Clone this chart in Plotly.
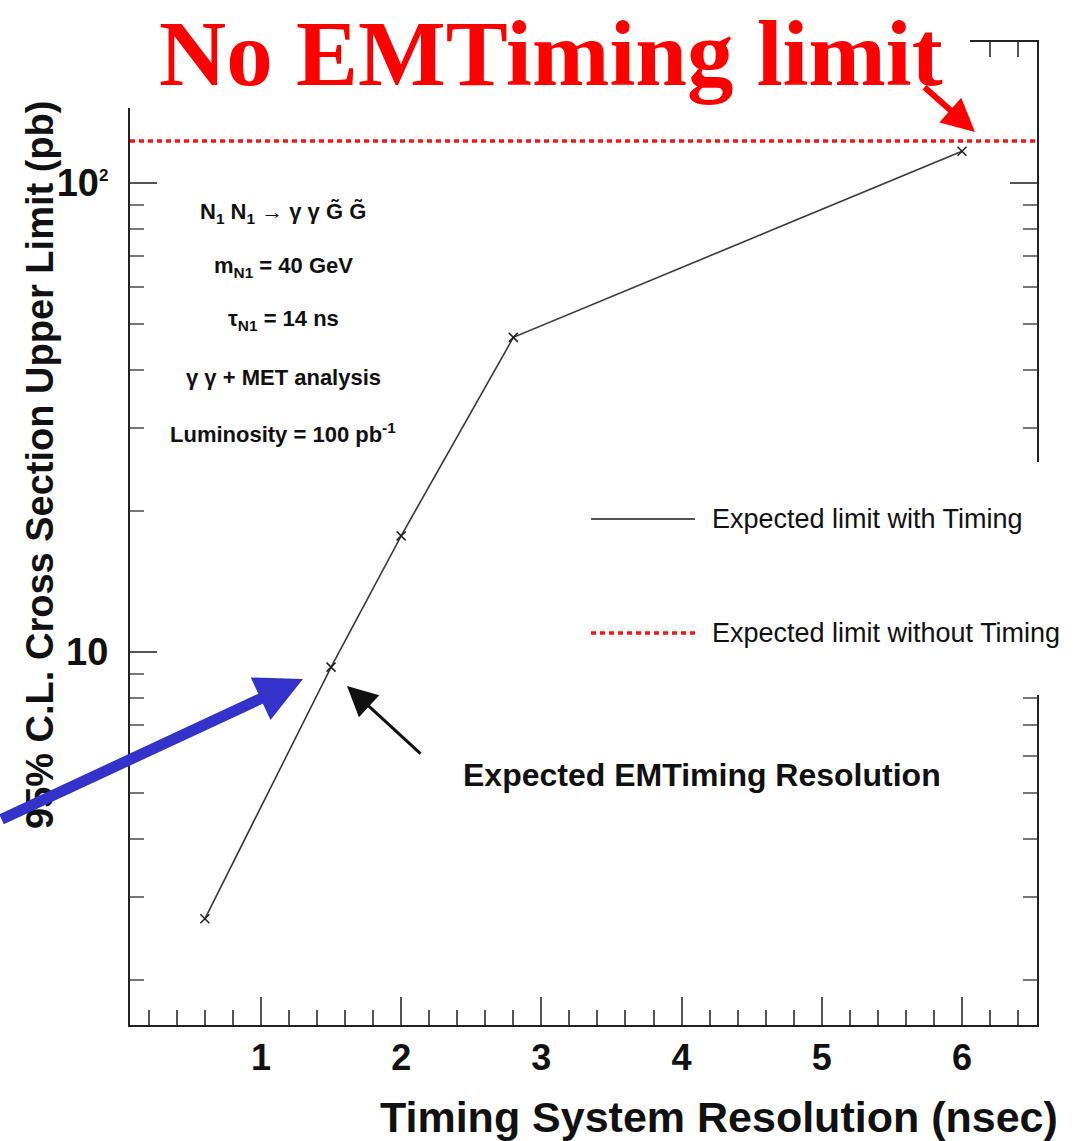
import plotly.graph_objects as go

# ---------------- data ----------------
resolution_ns = [0.6, 1.5, 2.0, 2.8, 6.0]
limit_with_timing_pb = [2.70, 9.29, 17.7, 46.9, 117.0]
limit_without_timing_pb = 123.0

x_range = [0.066, 6.535]
y_range_log = [0.205, 2.301]

x_tick_vals = [1, 2, 3, 4, 5, 6]
x_tick_text = ["1", "2", "3", "4", "5", "6"]
y_tick_vals = [10, 100]
y_tick_text = ["10", "10<sup><span style='font-size:17px'>2</span></sup>"]
y_minor_vals = [2, 3, 4, 5, 6, 7, 8, 9, 20, 30, 40, 50, 60, 70, 80, 90, 200]

legend_labels = ["Expected limit with Timing", "Expected limit without Timing"]
info_lines = [
    "N<sub>1</sub> N<sub>1</sub> → γ γ G̃ G̃",
    "m<sub>N1</sub> = 40 GeV",
    "τ<sub>N1</sub> = 14 ns",
    "γ γ + MET analysis",
    "Luminosity = 100 pb<sup>-1</sup>",
]

W, H = 1088, 1141
L, R, T, B = 130, 51, 42, 116
PW, PH = W - L - R, H - T - B


def px(xp):
    return (xp - L) / PW


def py(yp):
    return (H - B - yp) / PH


SANS = "Liberation Sans, Arial, Helvetica, sans-serif"

fig = go.Figure()

fig.add_trace(go.Scatter(
    x=resolution_ns, y=limit_with_timing_pb, mode="lines+markers",
    name=legend_labels[0], showlegend=False,
    line=dict(color="#3a3a3a", width=1.6),
    marker=dict(symbol="x-thin", size=9, line=dict(color="#222", width=1.5)),
))
fig.add_trace(go.Scatter(
    x=x_range, y=[limit_without_timing_pb] * 2, mode="lines",
    name=legend_labels[1], showlegend=False,
    line=dict(color="#ff1010", width=3.5, dash="5px,4px"),
))

axis_common = dict(
    showline=True, linecolor="#222", linewidth=2, mirror="ticks",
    ticks="inside", tickcolor="#555", tickwidth=2, showgrid=False, zeroline=False,
)

fig.update_xaxes(
    range=x_range, tickmode="array", tickvals=x_tick_vals, ticktext=x_tick_text,
    ticklen=28, ticklabelstandoff=0,
    tickfont=dict(family=SANS, size=36, color="#111", weight="bold"),
    minor=dict(tickmode="linear", tick0=0, dtick=0.2, ticks="inside", ticklen=15,
               tickcolor="#555", tickwidth=2, showgrid=False),
    **axis_common,
)
fig.update_yaxes(
    type="log", range=y_range_log, tickmode="array", tickvals=y_tick_vals,
    ticktext=y_tick_text, ticklen=27, ticklabelstandoff=12,
    tickfont=dict(family=SANS, size=38, color="#111", weight="bold"),
    minor=dict(tickmode="array", tickvals=y_minor_vals, ticks="inside", ticklen=14,
               tickcolor="#777", tickwidth=2, showgrid=False),
    **axis_common,
)

shapes = [
    # white box behind the red title
    dict(type="rect", xref="paper", yref="paper", x0=-0.02, x1=px(970),
         y0=py(108), y1=py(-5), fillcolor="white", line=dict(width=0), layer="above"),
    # legend box
    dict(type="rect", xref="paper", yref="paper", x0=px(575), x1=px(1090),
         y0=py(695), y1=py(462), fillcolor="white", line=dict(width=0), layer="above"),
    # legend samples
    dict(type="line", xref="paper", yref="paper", x0=px(591), x1=px(695),
         y0=py(519), y1=py(519), line=dict(color="#555", width=2), layer="above"),
    dict(type="line", xref="paper", yref="paper", x0=px(591), x1=px(695),
         y0=py(633), y1=py(633), line=dict(color="#ff1010", width=3.5, dash="5px,4px"),
         layer="above"),
]

annotations = []
# title
annotations.append(dict(
    text="No EMTiming limit", xref="paper", yref="paper", x=px(551), y=py(53),
    xanchor="center", yanchor="middle", showarrow=False,
    font=dict(family="Liberation Serif, Times New Roman, serif", size=93,
              color="#ff0000", weight="bold"),
))
# legend texts
for lbl, yy in zip(legend_labels, [519, 633]):
    annotations.append(dict(
        text=lbl, xref="paper", yref="paper", x=px(710), y=py(yy),
        xanchor="left", yanchor="middle", showarrow=False,
        font=dict(family=SANS, size=27, color="#111"),
    ))
# info text block
for line, yy in zip(info_lines, [213, 267, 320, 377, 433]):
    annotations.append(dict(
        text=line, xref="paper", yref="paper", x=px(283), y=py(yy),
        xanchor="center", yanchor="middle", showarrow=False,
        font=dict(family=SANS, size=22, color="#111", weight="bold"),
    ))
# axis titles
annotations.append(dict(
    text="Timing System Resolution (nsec)", xref="paper", yref="paper",
    x=px(719), y=py(1117), xanchor="center", yanchor="middle", showarrow=False,
    font=dict(family=SANS, size=43, color="#111", weight="bold"),
))
annotations.append(dict(
    text="95% C.L. Cross Section Upper Limit (pb)", xref="paper", yref="paper",
    x=px(40), y=py(465), xanchor="center", yanchor="middle", showarrow=False,
    textangle=-90,
    font=dict(family=SANS, size=38, color="#111", weight="bold"),
))
# black arrow + label
annotations.append(dict(
    text="", xref="paper", yref="paper", x=px(347), y=py(686),
    ax=75, ay=69, showarrow=True, arrowhead=2, arrowsize=2.0, arrowwidth=3,
    arrowcolor="#111",
))
annotations.append(dict(
    text="Expected EMTiming Resolution", xref="paper", yref="paper",
    x=px(702), y=py(775), xanchor="center", yanchor="middle", showarrow=False,
    font=dict(family=SANS, size=32, color="#111", weight="bold"),
))
# blue arrow
annotations.append(dict(
    text="", xref="paper", yref="paper", x=px(303), y=py(679),
    ax=-320, ay=141, showarrow=True, arrowhead=2, arrowsize=0.85, arrowwidth=11,
    arrowcolor="#3333cc",
))
# red arrow
annotations.append(dict(
    text="", xref="paper", yref="paper", x=px(975), y=py(132),
    ax=-52, ay=-46, showarrow=True, arrowhead=2, arrowsize=1.1, arrowwidth=6,
    arrowcolor="#ff0000",
))

fig.update_layout(
    width=W, height=H, autosize=False,
    margin=dict(l=L, r=R, t=T, b=B, pad=0),
    paper_bgcolor="white", plot_bgcolor="white",
    showlegend=False, shapes=shapes, annotations=annotations,
    font=dict(family=SANS, color="#111"),
)

fig.write_html("out.html")
